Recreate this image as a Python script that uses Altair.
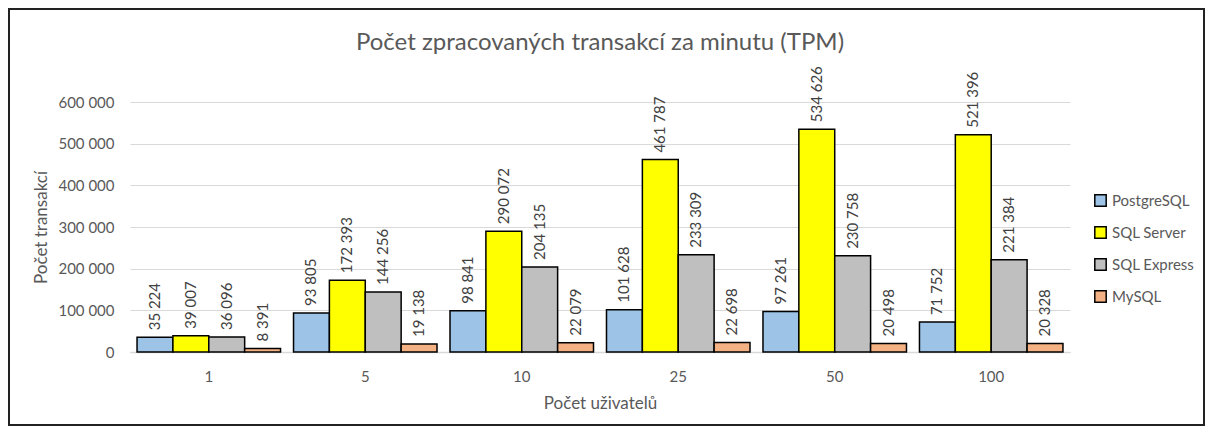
import altair as alt
import pandas as pd

users = ["1", "5", "10", "25", "50", "100"]
series = ["PostgreSQL", "SQL Server", "SQL Express", "MySQL"]
postgres = [35224, 93805, 98841, 101628, 97261, 71752]
sqlserver = [39007, 172393, 290072, 461787, 534626, 521396]
sqlexpress = [36096, 144256, 204135, 233309, 230758, 221384]
mysql = [8391, 19138, 22079, 22698, 20498, 20328]
colors = ["#9DC3E6", "#FFFF00", "#BFBFBF", "#F4B183"]
y_ticks = [0, 100000, 200000, 300000, 400000, 500000, 600000]
title_text = "Počet zpracovaných transakcí za minutu (TPM)"

rows = []
for s, vals in zip(series, [postgres, sqlserver, sqlexpress, mysql]):
    for u, v in zip(users, vals):
        rows.append({"users": u, "db": s, "tpm": v,
                     "label": f"{v:,}".replace(",", " ")})
df = pd.DataFrame(rows)

FONT = "Lato"
W, H = 940, 250
PL, PT, PR, PB = 122, 94, 135, 74

x = alt.X("users:N", sort=users, title="Počet uživatelů",
          scale=alt.Scale(paddingInner=0.083, paddingOuter=0.045),
          axis=alt.Axis(labelAngle=0, labelFontSize=15, labelColor="#595959",
                        labelPadding=17, titleFontSize=17, titleColor="#595959",
                        titleFontWeight="normal", titlePadding=11,
                        domainColor="#d9d9d9", domainWidth=1.5, ticks=False,
                        grid=False, labelFont=FONT, titleFont=FONT))
xo = alt.XOffset("db:N", sort=series, scale=alt.Scale(paddingInner=0, paddingOuter=0))
y = alt.Y("tpm:Q", title="Počet transakcí",
          scale=alt.Scale(domain=[0, 600000], nice=False),
          axis=alt.Axis(values=y_ticks,
                        labelExpr="replace(format(datum.value, ','), ',', ' ')",
                        labelFontSize=15, labelColor="#595959", labelPadding=16,
                        titleFontSize=17, titleColor="#595959", titleFontWeight="normal",
                        titlePadding=7, domain=False, ticks=False,
                        gridColor="#d9d9d9", gridWidth=1.2,
                        labelFont=FONT, titleFont=FONT))

bars = alt.Chart(df).mark_bar(stroke="black", strokeWidth=1.5).encode(
    x=x, xOffset=xo, y=y,
    fill=alt.Fill("db:N", sort=series,
                  scale=alt.Scale(domain=series, range=colors),
                  legend=alt.Legend(title=None, orient="none", legendX=963, legendY=91,
                                    symbolType="square", symbolSize=130,
                                    symbolStrokeColor="black", symbolStrokeWidth=1.5,
                                    labelFontSize=15, labelColor="#595959",
                                    labelFont=FONT, rowPadding=13, labelOffset=4)),
)

texts = alt.Chart(df).mark_text(angle=270, align="left", baseline="middle", dx=7,
                                fontSize=15, color="#404040", font=FONT).encode(
    x=x, xOffset=xo, y=y, text="label:N")

frame = alt.Chart(df).mark_rect(filled=False, stroke="#222222", strokeWidth=2).encode(
    x=alt.value(-PL + 1), x2=alt.value(W + PR - 1),
    y=alt.value(-PT + 1), y2=alt.value(H + PB - 1))

title = alt.Chart(pd.DataFrame({"t": [title_text]})).mark_text(
    fontSize=24, color="#595959", font=FONT, fontWeight="normal",
    align="center", baseline="alphabetic").encode(
    x=alt.value(W / 2), y=alt.value(-52), text="t:N")

chart = alt.layer(bars, texts, frame, title).properties(
    width=W, height=H,
    autosize=alt.AutoSizeParams(type="none"),
    padding={"left": PL, "top": PT, "right": PR, "bottom": PB},
).configure_view(stroke=None)

chart.save("out.html", embed_options={"renderer": "svg", "actions": False})
